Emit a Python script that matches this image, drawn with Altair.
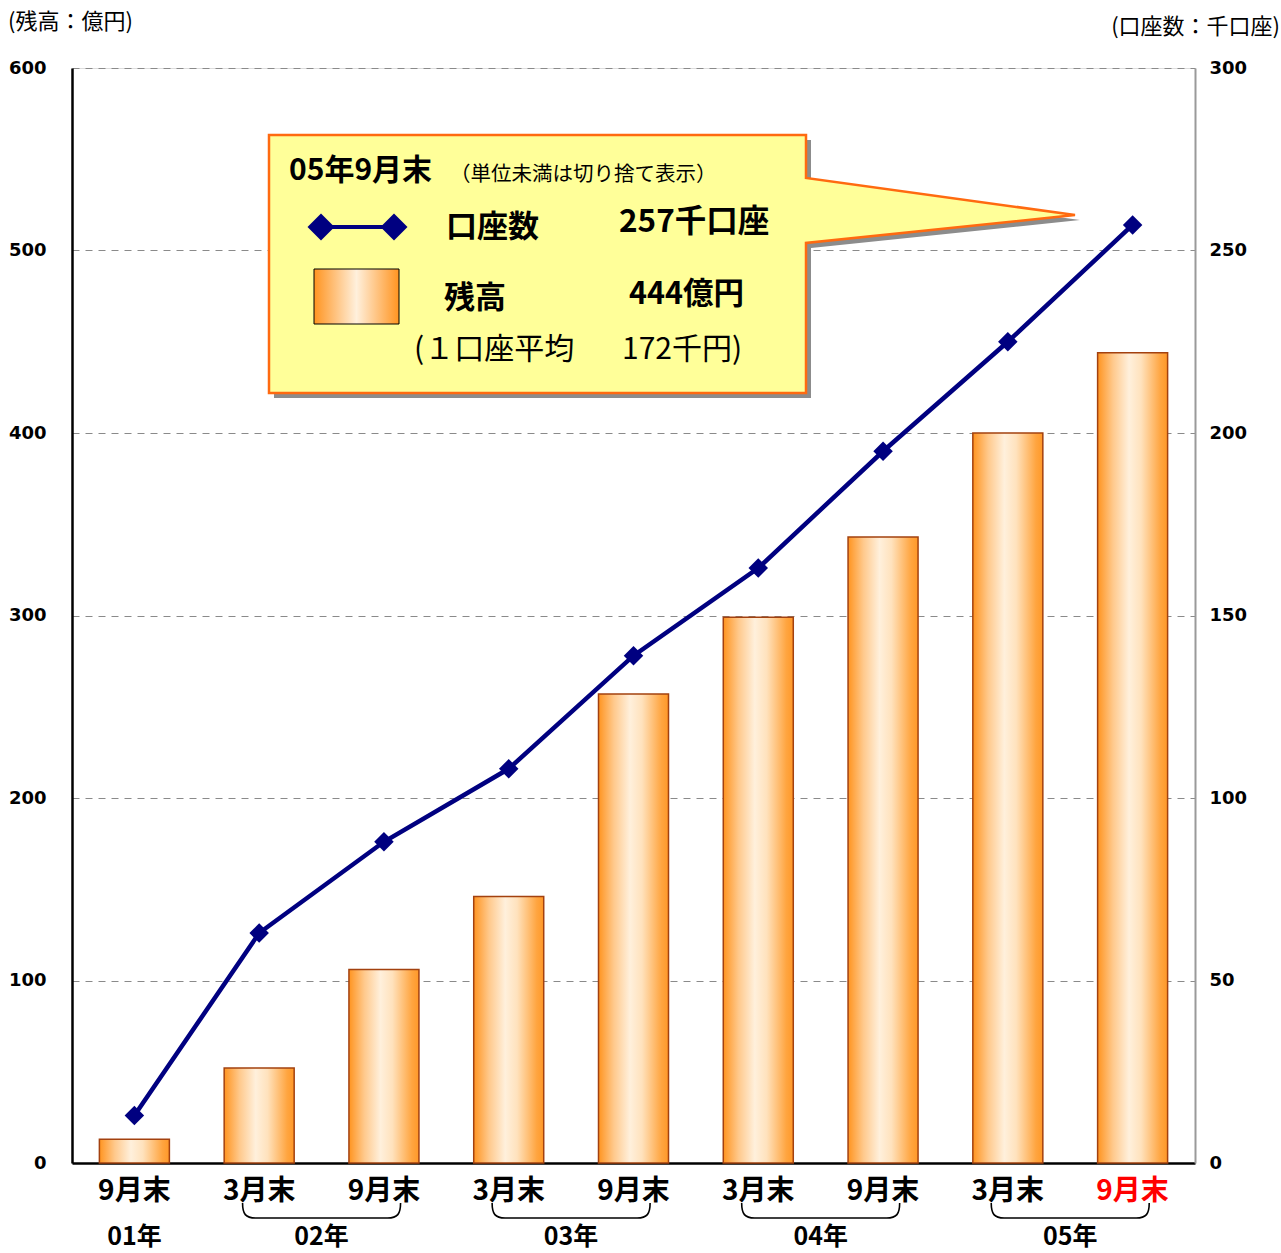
import altair as alt
import pandas as pd

# ---------------- data ----------------
periods = ["9月末", "3月末", "9月末", "3月末", "9月末", "3月末", "9月末", "3月末", "9月末"]
balance = [13, 52, 106, 146, 257, 299, 343, 400, 444]      # 残高 (億円)
accounts = [13, 63, 88, 108, 139, 163, 195, 225, 257]      # 口座数 (千口座)
years = ["01年", "02年", "03年", "04年", "05年"]
year_first = [0, 1, 3, 5, 7]
year_last = [0, 2, 4, 6, 8]
left_ticks = [0, 100, 200, 300, 400, 500, 600]
right_ticks = [0, 50, 100, 150, 200, 250, 300]

df = pd.DataFrame({"idx": list(range(len(periods))), "period": periods,
                   "balance": balance, "accounts": accounts})
ydf = pd.DataFrame({"year": years,
                    "pos": [(a + b) / 2 for a, b in zip(year_first, year_last)],
                    "span": [b - a for a, b in zip(year_first, year_last)]})
brace_df = ydf[ydf["span"] > 0]
one = pd.DataFrame({"a": [0]})

# ---------------- layout ----------------
OX, OY = 72, 68
W, H = 1123, 1095
JP = "Noto Sans CJK JP"
NUM = "DejaVu Sans"

def px(x):
    return x - OX

def py(y):
    return y - OY

xs = alt.Scale(domain=[-0.5, 8.5], nice=False, zero=False, padding=0)

bar_grad = alt.Gradient(
    gradient="linear", x1=0, x2=1, y1=0, y2=0,
    stops=[alt.GradientStop(color="#ff9420", offset=0),
           alt.GradientStop(color="#ffc98c", offset=0.22),
           alt.GradientStop(color="#fff0dc", offset=0.45),
           alt.GradientStop(color="#ffe2bd", offset=0.62),
           alt.GradientStop(color="#ffa540", offset=0.9),
           alt.GradientStop(color="#ff9828", offset=1)])

bars = alt.Chart(df).mark_bar(
    width=70, fill=bar_grad, stroke="#a3410f", strokeWidth=1.5
).encode(
    x=alt.X("idx:Q", scale=xs,
            axis=alt.Axis(labels=False, ticks=False, grid=False, title=None,
                          domainColor="black", domainWidth=2.5)),
    y=alt.Y("balance:Q", scale=alt.Scale(domain=[0, 600], nice=False),
            axis=alt.Axis(orient="left", values=left_ticks, title=None,
                          grid=True, gridDash=[7, 6], gridColor="#8a8a8a",
                          gridWidth=1, ticks=False, labelPadding=26,
                          labelFont=NUM, labelFontWeight="bold", labelFontSize=18,
                          labelColor="black", domainColor="black", domainWidth=2.5)),
)

line_y = alt.Y("accounts:Q", scale=alt.Scale(domain=[0, 300], nice=False),
               axis=alt.Axis(orient="right", values=right_ticks, title=None,
                             grid=False, ticks=False, labelPadding=14,
                             labelFont=NUM, labelFontWeight="bold", labelFontSize=18,
                             labelColor="black", domainColor="#9a9a9a", domainWidth=2))
line = alt.Chart(df).mark_line(color="#000080", strokeWidth=4.5).encode(
    x=alt.X("idx:Q", scale=xs), y=line_y)
pts = alt.Chart(df).mark_point(shape="diamond", filled=True, size=380,
                               color="#000080", opacity=1).encode(
    x=alt.X("idx:Q", scale=xs), y=line_y)
line_layer = alt.layer(line, pts)

# x labels
xlab = alt.Chart(df).mark_text(font=JP, fontWeight="bold", fontSize=28,
                               baseline="middle").encode(
    x=alt.X("idx:Q", scale=xs), y=alt.value(py(1192)), text="period:N",
    color=alt.condition(alt.datum.idx == 8, alt.value("#ff0000"), alt.value("black")))
ylab = alt.Chart(ydf).mark_text(font=JP, fontWeight="bold", fontSize=25,
                                baseline="middle", color="black").encode(
    x=alt.X("pos:Q", scale=xs), y=alt.value(py(1237)), text="year:N")
braces = alt.Chart(brace_df).mark_point(
    shape="M-79,0 C-79,11 -76,15 -66,15 L66,15 C76,15 79,11 79,0",
    size=4, filled=False, stroke="black", strokeWidth=1.6, opacity=1
).encode(x=alt.X("pos:Q", scale=xs), y=alt.value(py(1203)))

# callout box
def callout_path(dx, dy):
    L, T, R, B = 269 + dx, 135 + dy, 806 + dx, 393 + dy
    return (f"M{L-OX},{T-OY} L{R-OX},{T-OY} L{R-OX},{178+dy-OY} "
            f"L{1075+dx-OX},{215+dy-OY} L{R-OX},{243+dy-OY} L{R-OX},{B-OY} "
            f"L{L-OX},{B-OY} Z")

shadow = alt.Chart(one).mark_point(shape=callout_path(5, 5), size=4, filled=True,
                                   fill="#8c8c8c", strokeWidth=0, opacity=1).encode(
    x=alt.value(0), y=alt.value(0))
box = alt.Chart(one).mark_point(shape=callout_path(0, 0), size=4, filled=True,
                                fill="#ffff99", stroke="#ff6a10", strokeWidth=2.5,
                                opacity=1).encode(x=alt.value(0), y=alt.value(0))

def txt(s, x, y, size, weight="normal", align="left", font=JP):
    return alt.Chart(one).mark_text(text=s, font=font, fontSize=size, fontWeight=weight,
                                    align=align, baseline="middle", color="black").encode(
        x=alt.value(px(x)), y=alt.value(py(y)))

leg_line = alt.Chart(one).mark_rule(color="#000080", strokeWidth=4).encode(
    x=alt.value(px(321)), x2=alt.value(px(394)), y=alt.value(py(227)))
leg_d1 = alt.Chart(one).mark_point(shape="diamond", filled=True, size=729,
                                   color="#000080", opacity=1).encode(
    x=alt.value(px(321)), y=alt.value(py(227)))
leg_d2 = alt.Chart(one).mark_point(shape="diamond", filled=True, size=729,
                                   color="#000080", opacity=1).encode(
    x=alt.value(px(394)), y=alt.value(py(227)))
swatch_grad = alt.Gradient(
    gradient="linear", x1=0, x2=1, y1=0, y2=0,
    stops=[alt.GradientStop(color="#ff9420", offset=0),
           alt.GradientStop(color="#fff0dc", offset=0.5),
           alt.GradientStop(color="#ff9420", offset=1)])
leg_rect = alt.Chart(one).mark_rect(fill=swatch_grad, stroke="black", strokeWidth=1).encode(
    x=alt.value(px(314)), x2=alt.value(px(399)), y=alt.value(py(269)), y2=alt.value(py(324)))

texts = [
    txt("05年9月末", 289, 171, 30, "bold"),
    txt("（単位未満は切り捨て表示）", 450, 175, 20.5),
    txt("口座数", 446, 228, 31, "bold"),
    txt("257千口座", 619, 223, 31.5, "bold"),
    txt("残高", 444, 299, 31, "bold"),
    txt("444億円", 629, 295, 30.5, "bold"),
    txt("(１口座平均", 414, 350, 30),
    txt("172千円)", 622, 350, 30),
    txt("(残高：億円)", 8, 22, 22),
    txt("(口座数：千口座)", 1280, 27, 22, align="right"),
]

chart = alt.layer(
    bars, line_layer, xlab, ylab, braces, shadow, box,
    leg_line, leg_d1, leg_d2, leg_rect, *texts
).resolve_scale(y="independent").properties(
    width=W, height=H, autosize="none",
    padding={"left": OX, "top": OY, "right": 1281 - OX - W, "bottom": 1253 - OY - H},
).configure_view(stroke=None).configure(background="white")

chart.save("out.html", embed_options={"renderer": "svg", "actions": False})
